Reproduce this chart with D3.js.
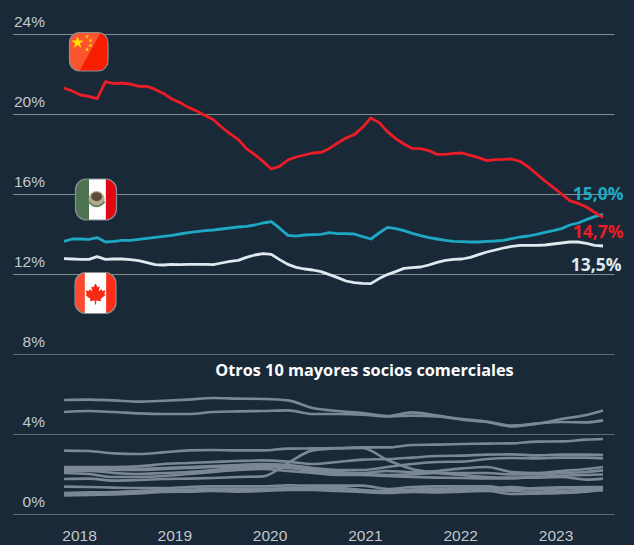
<!DOCTYPE html>
<html lang="es">
<head>
<meta charset="utf-8">
<script src="https://cdn.jsdelivr.net/npm/d3@7"></script>
<style>
html,body{margin:0;padding:0;background:#192938;}
svg{display:block;font-family:"Open Sans","Noto Sans",sans-serif;}
</style>
</head>
<body>
<div id="chart"></div>
<script>
// Monthly index 0..65 = Jan 2018 .. Jun 2023
const china=[21.30,21.15,20.95,20.88,20.77,21.62,21.52,21.55,21.50,21.38,21.38,21.23,21.03,20.75,20.57,20.33,20.15,19.93,19.72,19.35,19.02,18.73,18.27,17.97,17.63,17.25,17.38,17.70,17.85,17.95,18.05,18.08,18.28,18.55,18.80,18.97,19.33,19.80,19.57,19.12,18.77,18.50,18.28,18.27,18.17,17.98,17.98,18.03,18.05,17.93,17.82,17.67,17.72,17.73,17.75,17.63,17.35,17.00,16.65,16.33,16.00,15.67,15.53,15.35,15.08,14.83];
const mexico=[13.63,13.75,13.75,13.73,13.82,13.60,13.63,13.68,13.68,13.73,13.78,13.83,13.88,13.93,14.00,14.07,14.12,14.17,14.20,14.25,14.30,14.35,14.38,14.45,14.55,14.62,14.29,13.93,13.89,13.95,13.97,13.98,14.07,14.02,14.02,14.00,13.87,13.75,14.05,14.33,14.27,14.17,14.03,13.92,13.82,13.75,13.68,13.63,13.62,13.60,13.60,13.63,13.65,13.68,13.77,13.85,13.90,13.98,14.08,14.17,14.27,14.45,14.55,14.72,14.87,14.98];
const canada=[12.77,12.75,12.73,12.73,12.87,12.73,12.75,12.75,12.72,12.67,12.57,12.47,12.45,12.48,12.47,12.48,12.48,12.48,12.47,12.55,12.63,12.68,12.83,12.95,13.02,12.98,12.72,12.48,12.33,12.25,12.20,12.12,11.97,11.82,11.65,11.57,11.53,11.52,11.77,11.97,12.12,12.28,12.32,12.35,12.45,12.58,12.68,12.73,12.75,12.83,12.97,13.10,13.20,13.30,13.38,13.43,13.43,13.43,13.45,13.50,13.55,13.60,13.60,13.53,13.43,13.40];

// Other partners, read at these month indices
const otherMonths=[0,3,6,9,12,15,18,21,24,27,30,33,36,39,42,45,48,51,54,57,60,63,65];
const otherA=[5.70,5.72,5.68,5.62,5.66,5.72,5.80,5.77,5.75,5.68,5.30,5.15,5.05,4.90,5.08,4.92,4.75,4.62,4.42,4.52,4.75,4.95,5.17];
const otherB=[5.10,5.15,5.10,5.03,5.00,5.00,5.10,5.13,5.15,5.18,5.00,5.00,4.97,4.88,4.92,4.88,4.72,4.60,4.38,4.52,4.60,4.58,4.68];
const otherC=[3.17,3.15,3.03,3.00,3.08,3.18,3.20,3.18,3.18,3.27,3.28,3.30,3.33,3.33,3.45,3.47,3.50,3.52,3.53,3.62,3.63,3.72,3.75];
const otherD=[1.75,1.77,1.67,1.70,1.75,1.77,1.80,1.85,1.88,2.55,3.18,3.28,3.30,2.70,2.25,2.05,1.95,1.85,1.82,1.82,1.85,1.72,1.77];
const otherE=[2.35,2.35,2.35,2.38,2.50,2.55,2.60,2.65,2.68,2.62,2.50,2.60,2.72,2.75,2.82,2.90,2.92,2.97,2.98,2.93,2.97,2.97,2.95];
const otherF=[2.30,2.30,2.28,2.25,2.30,2.35,2.40,2.45,2.50,2.45,2.30,2.20,2.20,2.35,2.50,2.60,2.62,2.75,2.80,2.78,2.82,2.82,2.78];
const otherG=[2.20,2.20,2.20,2.20,2.25,2.30,2.35,2.35,2.40,2.35,2.20,2.10,2.05,2.15,2.10,2.15,2.28,2.35,2.10,2.05,2.15,2.25,2.35];
const otherH=[2.15,2.15,2.05,2.00,2.05,2.10,2.20,2.30,2.35,2.30,2.15,2.05,2.00,1.95,1.98,2.05,2.05,2.05,1.98,1.98,2.05,2.10,2.18];
const otherI=[2.05,2.00,1.85,1.85,1.90,2.00,2.10,2.20,2.25,2.15,2.05,1.95,1.95,1.90,1.85,1.82,1.80,1.78,1.78,1.85,1.92,1.95,1.98];
const otherJ=[1.37,1.35,1.32,1.30,1.30,1.35,1.38,1.38,1.38,1.43,1.42,1.42,1.42,1.25,1.35,1.38,1.38,1.38,1.25,1.30,1.33,1.35,1.35];
const otherK=[1.05,1.08,1.10,1.15,1.20,1.22,1.25,1.25,1.25,1.30,1.30,1.30,1.20,1.15,1.22,1.25,1.28,1.28,1.35,1.25,1.28,1.30,1.28];
const otherL=[0.93,0.95,0.98,1.03,1.10,1.12,1.15,1.12,1.15,1.20,1.20,1.15,1.10,1.05,1.10,1.08,1.12,1.15,1.00,1.02,1.05,1.12,1.22];
const otherM=[1.00,1.02,1.05,1.10,1.15,1.18,1.20,1.20,1.20,1.25,1.22,1.20,1.12,1.10,1.15,1.18,1.20,1.22,1.15,1.12,1.15,1.20,1.18];
const others=[otherA,otherB,otherC,otherD,otherE,otherF,otherG,otherH,otherI,otherJ,otherK,otherL,otherM];

const yTicks=[0,4,8,12,16,20,24];
const yearLabels=[2018,2019,2020,2021,2022,2023];
const endLabels=["15,0%","14,7%","13,5%"];
const title="Otros 10 mayores socios comerciales";

const W=634,H=545;
const bg="#192938",cRed="#ee1c25",cBlue="#1ea8c3",cWhite="#dfe9ee",cGrey="#7b8894";

const svg=d3.select("#chart").append("svg").attr("width",W).attr("height",H);
svg.append("rect").attr("width",W).attr("height",H).attr("fill",bg);

const x=d3.scaleLinear().domain([0,65]).range([64,603]);
const y=d3.scaleLinear().domain([0,24]).range([514,34]);
const xYear=d3.scaleLinear().domain([2018,2023]).range([79,555.5]);

// Y axis
const yAxis=svg.append("g").attr("transform","translate(13,0)")
  .call(d3.axisRight(y).tickValues(yTicks).tickSize(601.5).tickFormat(d=>d+"%"));
yAxis.select(".domain").remove();
yAxis.selectAll(".tick line").attr("stroke",d=>d<=8?"#5f6c78":"#838b93").attr("stroke-width",1);
yAxis.selectAll(".tick text")
  .attr("x",32).attr("dy",0).attr("y",-8).attr("text-anchor","end")
  .attr("fill","#c3c8cd").attr("font-size",15.5).attr("font-weight",300);

// X axis labels
const xAxis=svg.append("g").attr("transform","translate(0,514)")
  .call(d3.axisBottom(xYear).tickValues(yearLabels).tickSize(0).tickFormat(d3.format("d")).tickPadding(16));
xAxis.select(".domain").remove();
xAxis.selectAll(".tick text").attr("fill","#c3c8cd").attr("font-size",15.5).attr("font-weight",300);

// Other partners
const otherLine=d3.line().curve(d3.curveMonotoneX).x((d,i)=>x(otherMonths[i])).y(d=>y(d));
svg.append("g").selectAll("path").data(others).join("path")
  .attr("d",otherLine).attr("fill","none").attr("stroke",cGrey)
  .attr("stroke-width",2.6).attr("stroke-linejoin","round");

// Main series
const mainLine=d3.line().x((d,i)=>x(i)).y(d=>y(d));
[[canada,cWhite],[mexico,cBlue],[china,cRed]].forEach(([s,c])=>{
  svg.append("path").attr("d",mainLine(s)).attr("fill","none").attr("stroke",c)
    .attr("stroke-width",2.8).attr("stroke-linejoin","round");
});

// End labels
const endColors=[cBlue,cRed,cWhite], endY=[200,238,271], endX=[623.5,623.5,621.5];
svg.append("g").selectAll("text").data(endLabels).join("text")
  .attr("x",(d,i)=>endX[i]).attr("y",(d,i)=>endY[i]).attr("text-anchor","end")
  .attr("fill",(d,i)=>endColors[i]).attr("font-size",17.5).attr("font-weight",700).text(d=>d);

// Subtitle
svg.append("text").attr("x",364.5).attr("y",376).attr("text-anchor","middle")
  .attr("fill","#ffffff").attr("font-size",16.3).attr("font-weight",700).text(title);

// Flags
const defs=svg.append("defs");
function flag(id,fx,fy,s,r,draw){
  defs.append("clipPath").attr("id",id).append("rect").attr("width",s).attr("height",s).attr("rx",r);
  const g=svg.append("g").attr("transform",`translate(${fx},${fy})`);
  const inner=g.append("g").attr("clip-path",`url(#${id})`);
  draw(inner,s);
  g.append("rect").attr("width",s).attr("height",s).attr("rx",r).attr("fill","none")
    .attr("stroke","#8a8f94").attr("stroke-width",1.2);
}
const star=d3.symbol().type(d3.symbolStar);
flag("cn",69.5,32.5,38.5,10,(g,s)=>{
  g.append("rect").attr("width",s).attr("height",s).attr("fill","#f71d00");
  g.append("path").attr("d",`M0 0H${s*0.81}L${s*0.26} ${s}H0Z`).attr("fill","#fb5530");
  g.append("path").attr("d",star.size(50)()).attr("transform","translate(8,10)").attr("fill","#ffe000");
  [[17.5,4],[21,8],[21,13],[17.5,17]].forEach(p=>{
    g.append("path").attr("d",star.size(6)()).attr("transform",`translate(${p[0]},${p[1]})`).attr("fill","#ffd800");
  });
});
flag("mx",75.5,179,41,11,(g,s)=>{
  g.append("rect").attr("width",s).attr("height",s).attr("fill","#ffffff");
  g.append("rect").attr("width",s*0.33).attr("height",s).attr("fill","#4e7350");
  g.append("rect").attr("x",s*0.74).attr("width",s*0.26).attr("height",s).attr("fill","#e30613");
  g.append("circle").attr("cx",s*.515).attr("cy",s*.49).attr("r",8).attr("fill","#b6ad8e");
  g.append("ellipse").attr("cx",s*.515).attr("cy",s*.43).attr("rx",5.5).attr("ry",4.5).attr("fill","#5d4a38");
  g.append("path").attr("d",`M${s*.515-8} ${s*.55}Q${s*.515} ${s*.78} ${s*.515+8} ${s*.55}`)
    .attr("fill","none").attr("stroke","#5f8a5c").attr("stroke-width",2);
});
flag("ca",75,272.5,41,11,(g,s)=>{
  g.append("rect").attr("width",s).attr("height",s).attr("fill","#ffffff");
  g.append("rect").attr("width",s*0.24).attr("height",s).attr("fill","#fb4a2e");
  g.append("rect").attr("x",s*0.76).attr("width",s*0.24).attr("height",s).attr("fill","#fb2d16");
  g.append("path").attr("transform",`translate(${s/2},${s/2+1}) scale(0.95)`)
   .attr("d","M0 -11L2.3 -7L4.5 -8L3.4 -2.5L6 -5.2L7 -3.2L10.5 -3.8L9.2 0L10.6 1L5.3 5.3L6 7.5L0.7 6.8V11H-0.7V6.8L-6 7.5L-5.3 5.3L-10.6 1L-9.2 0L-10.5 -3.8L-7 -3.2L-6 -5.2L-3.4 -2.5L-4.5 -8L-2.3 -7Z")
   .attr("fill","#f42a14");
});
</script>
</body>
</html>
